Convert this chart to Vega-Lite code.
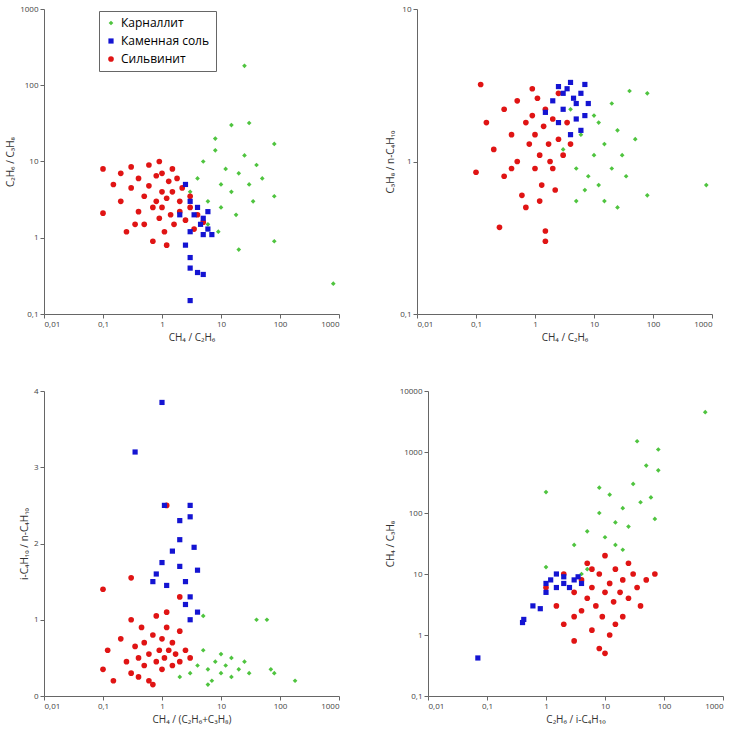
{
"$schema":"https://vega.github.io/schema/vega-lite/v6.json",
"padding":{"left":5,"top":5,"right":10,"bottom":5},
"config":{"view":{"stroke":null},"font":"Open Sans","axis":{"grid":false,"labelFontSize":8,"titleFontSize":10,"titleFontWeight":"normal","labelColor":"#444","titleColor":"#333","domainColor":"#666","tickColor":"#666","tickSize":4},"concat":{"spacing":45}},
"datasets":{"d":[
{"p":1,"t":"Карналлит","x":25,"y":180},{"p":1,"t":"Карналлит","x":800,"y":0.25},{"p":1,"t":"Карналлит","x":80,"y":17},{"p":1,"t":"Карналлит","x":30,"y":32},{"p":1,"t":"Карналлит","x":15,"y":30},{"p":1,"t":"Карналлит","x":20,"y":0.7},{"p":1,"t":"Карналлит","x":80,"y":0.9},{"p":1,"t":"Карналлит","x":80,"y":3.5},{"p":1,"t":"Карналлит","x":3,"y":4},{"p":1,"t":"Карналлит","x":4,"y":6},{"p":1,"t":"Карналлит","x":5,"y":10},{"p":1,"t":"Карналлит","x":6,"y":3},{"p":1,"t":"Карналлит","x":8,"y":14},{"p":1,"t":"Карналлит","x":10,"y":5},{"p":1,"t":"Карналлит","x":10,"y":2.5},{"p":1,"t":"Карналлит","x":12,"y":8},{"p":1,"t":"Карналлит","x":15,"y":4},{"p":1,"t":"Карналлит","x":20,"y":7},{"p":1,"t":"Карналлит","x":25,"y":12},{"p":1,"t":"Карналлит","x":30,"y":5},{"p":1,"t":"Карналлит","x":40,"y":9},{"p":1,"t":"Карналлит","x":6,"y":1.5},{"p":1,"t":"Карналлит","x":9,"y":1.2},{"p":1,"t":"Карналлит","x":18,"y":2},{"p":1,"t":"Карналлит","x":35,"y":3},{"p":1,"t":"Карналлит","x":50,"y":6},{"p":1,"t":"Карналлит","x":8,"y":20},{"p":1,"t":"Карналлит","x":4,"y":2},
{"p":1,"t":"Сильвинит","x":0.1,"y":8},{"p":1,"t":"Сильвинит","x":0.1,"y":2.1},{"p":1,"t":"Сильвинит","x":0.15,"y":5},{"p":1,"t":"Сильвинит","x":0.2,"y":7},{"p":1,"t":"Сильвинит","x":0.2,"y":3},{"p":1,"t":"Сильвинит","x":0.25,"y":1.2},{"p":1,"t":"Сильвинит","x":0.3,"y":4.5},{"p":1,"t":"Сильвинит","x":0.3,"y":8.5},{"p":1,"t":"Сильвинит","x":0.4,"y":2.2},{"p":1,"t":"Сильвинит","x":0.4,"y":6},{"p":1,"t":"Сильвинит","x":0.5,"y":3.5},{"p":1,"t":"Сильвинит","x":0.5,"y":1.5},{"p":1,"t":"Сильвинит","x":0.6,"y":9},{"p":1,"t":"Сильвинит","x":0.6,"y":4.8},{"p":1,"t":"Сильвинит","x":0.7,"y":2.5},{"p":1,"t":"Сильвинит","x":0.8,"y":6.5},{"p":1,"t":"Сильвинит","x":0.8,"y":3},{"p":1,"t":"Сильвинит","x":0.9,"y":1.8},{"p":1,"t":"Сильвинит","x":1,"y":4},{"p":1,"t":"Сильвинит","x":1,"y":2.5},{"p":1,"t":"Сильвинит","x":1,"y":7},{"p":1,"t":"Сильвинит","x":1.1,"y":1.2},{"p":1,"t":"Сильвинит","x":1.2,"y":3.3},{"p":1,"t":"Сильвинит","x":1.3,"y":5.5},{"p":1,"t":"Сильвинит","x":1.4,"y":2},{"p":1,"t":"Сильвинит","x":1.5,"y":4},{"p":1,"t":"Сильвинит","x":1.6,"y":1.5},{"p":1,"t":"Сильвинит","x":1.8,"y":6},{"p":1,"t":"Сильвинит","x":2,"y":3},{"p":1,"t":"Сильвинит","x":2,"y":2.2},{"p":1,"t":"Сильвинит","x":2.2,"y":4.5},{"p":1,"t":"Сильвинит","x":2.5,"y":1.7},{"p":1,"t":"Сильвинит","x":3,"y":3.5},{"p":1,"t":"Сильвинит","x":3,"y":2.5},{"p":1,"t":"Сильвинит","x":3.5,"y":1.3},{"p":1,"t":"Сильвинит","x":4,"y":2},{"p":1,"t":"Сильвинит","x":5,"y":1.6},{"p":1,"t":"Сильвинит","x":0.7,"y":0.9},{"p":1,"t":"Сильвинит","x":1.2,"y":0.8},{"p":1,"t":"Сильвинит","x":0.35,"y":1.5},{"p":1,"t":"Сильвинит","x":0.9,"y":10},{"p":1,"t":"Сильвинит","x":1.5,"y":8},
{"p":1,"t":"Каменная соль","x":3,"y":0.15},{"p":1,"t":"Каменная соль","x":3,"y":0.4},{"p":1,"t":"Каменная соль","x":4,"y":0.35},{"p":1,"t":"Каменная соль","x":5,"y":0.33},{"p":1,"t":"Каменная соль","x":3,"y":0.55},{"p":1,"t":"Каменная соль","x":2.5,"y":0.8},{"p":1,"t":"Каменная соль","x":5,"y":1.1},{"p":1,"t":"Каменная соль","x":6,"y":1.3},{"p":1,"t":"Каменная соль","x":7,"y":1.1},{"p":1,"t":"Каменная соль","x":2,"y":2},{"p":1,"t":"Каменная соль","x":3,"y":3},{"p":1,"t":"Каменная соль","x":4,"y":2.5},{"p":1,"t":"Каменная соль","x":5,"y":1.8},{"p":1,"t":"Каменная соль","x":3,"y":1.2},{"p":1,"t":"Каменная соль","x":2.5,"y":5},{"p":1,"t":"Каменная соль","x":4.5,"y":1.5},{"p":1,"t":"Каменная соль","x":6,"y":2.2},{"p":1,"t":"Каменная соль","x":3.5,"y":2},
{"p":2,"t":"Карналлит","x":800,"y":0.7},{"p":2,"t":"Карналлит","x":80,"y":2.8},{"p":2,"t":"Карналлит","x":40,"y":2.9},{"p":2,"t":"Карналлит","x":80,"y":0.6},{"p":2,"t":"Карналлит","x":25,"y":0.5},{"p":2,"t":"Карналлит","x":5,"y":0.55},{"p":2,"t":"Карналлит","x":3,"y":1.2},{"p":2,"t":"Карналлит","x":5,"y":0.9},{"p":2,"t":"Карналлит","x":6,"y":1.5},{"p":2,"t":"Карналлит","x":8,"y":0.8},{"p":2,"t":"Карналлит","x":10,"y":2},{"p":2,"t":"Карналлит","x":10,"y":1.1},{"p":2,"t":"Карналлит","x":12,"y":0.7},{"p":2,"t":"Карналлит","x":15,"y":1.3},{"p":2,"t":"Карналлит","x":15,"y":0.55},{"p":2,"t":"Карналлит","x":20,"y":0.9},{"p":2,"t":"Карналлит","x":20,"y":2.4},{"p":2,"t":"Карналлит","x":25,"y":1.6},{"p":2,"t":"Карналлит","x":30,"y":1.1},{"p":2,"t":"Карналлит","x":35,"y":0.8},{"p":2,"t":"Карналлит","x":50,"y":1.4},{"p":2,"t":"Карналлит","x":7,"y":0.65},{"p":2,"t":"Карналлит","x":4,"y":2.2},{"p":2,"t":"Карналлит","x":12,"y":1.8},{"p":2,"t":"Карналлит","x":1.5,"y":0.35},
{"p":2,"t":"Сильвинит","x":0.12,"y":3.2},{"p":2,"t":"Сильвинит","x":0.25,"y":0.37},{"p":2,"t":"Сильвинит","x":1.5,"y":0.3},{"p":2,"t":"Сильвинит","x":1.5,"y":0.35},{"p":2,"t":"Сильвинит","x":0.1,"y":0.85},{"p":2,"t":"Сильвинит","x":0.15,"y":1.8},{"p":2,"t":"Сильвинит","x":0.2,"y":1.2},{"p":2,"t":"Сильвинит","x":0.3,"y":2.2},{"p":2,"t":"Сильвинит","x":0.3,"y":0.8},{"p":2,"t":"Сильвинит","x":0.4,"y":1.5},{"p":2,"t":"Сильвинит","x":0.5,"y":1},{"p":2,"t":"Сильвинит","x":0.5,"y":2.5},{"p":2,"t":"Сильвинит","x":0.6,"y":0.6},{"p":2,"t":"Сильвинит","x":0.7,"y":1.8},{"p":2,"t":"Сильвинит","x":0.8,"y":1.3},{"p":2,"t":"Сильвинит","x":0.9,"y":2},{"p":2,"t":"Сильвинит","x":1,"y":0.9},{"p":2,"t":"Сильвинит","x":1,"y":1.5},{"p":2,"t":"Сильвинит","x":1.1,"y":2.6},{"p":2,"t":"Сильвинит","x":1.2,"y":1.1},{"p":2,"t":"Сильвинит","x":1.3,"y":0.7},{"p":2,"t":"Сильвинит","x":1.4,"y":1.7},{"p":2,"t":"Сильвинит","x":1.5,"y":2.2},{"p":2,"t":"Сильвинит","x":1.7,"y":1.3},{"p":2,"t":"Сильвинит","x":2,"y":0.9},{"p":2,"t":"Сильвинит","x":2,"y":1.9},{"p":2,"t":"Сильвинит","x":2.5,"y":1.4},{"p":2,"t":"Сильвинит","x":2.5,"y":2.8},{"p":2,"t":"Сильвинит","x":3,"y":1.1},{"p":2,"t":"Сильвинит","x":3.5,"y":1.8},{"p":2,"t":"Сильвинит","x":4,"y":1.3},{"p":2,"t":"Сильвинит","x":0.7,"y":0.5},{"p":2,"t":"Сильвинит","x":1.2,"y":0.55},{"p":2,"t":"Сильвинит","x":0.9,"y":3},{"p":2,"t":"Сильвинит","x":1.8,"y":1},{"p":2,"t":"Сильвинит","x":0.4,"y":0.9},{"p":2,"t":"Сильвинит","x":2.2,"y":0.65},
{"p":2,"t":"Каменная соль","x":1.5,"y":2.1},{"p":2,"t":"Каменная соль","x":2,"y":2.5},{"p":2,"t":"Каменная соль","x":2.5,"y":1.8},{"p":2,"t":"Каменная соль","x":3,"y":2.2},{"p":2,"t":"Каменная соль","x":3.5,"y":3},{"p":2,"t":"Каменная соль","x":4,"y":3.3},{"p":2,"t":"Каменная соль","x":4.5,"y":2.6},{"p":2,"t":"Каменная соль","x":5,"y":1.9},{"p":2,"t":"Каменная соль","x":5,"y":2.4},{"p":2,"t":"Каменная соль","x":6,"y":2.8},{"p":2,"t":"Каменная соль","x":6,"y":1.6},{"p":2,"t":"Каменная соль","x":7,"y":3.2},{"p":2,"t":"Каменная соль","x":7,"y":2},{"p":2,"t":"Каменная соль","x":3,"y":2.8},{"p":2,"t":"Каменная соль","x":4,"y":1.5},{"p":2,"t":"Каменная соль","x":8,"y":2.4},{"p":2,"t":"Каменная соль","x":2.5,"y":3.1},
{"p":3,"t":"Карналлит","x":40,"y":1.0},{"p":3,"t":"Карналлит","x":60,"y":1.0},{"p":3,"t":"Карналлит","x":180,"y":0.2},{"p":3,"t":"Карналлит","x":5,"y":1.05},{"p":3,"t":"Карналлит","x":2,"y":0.25},{"p":3,"t":"Карналлит","x":3,"y":0.5},{"p":3,"t":"Карналлит","x":3,"y":0.3},{"p":3,"t":"Карналлит","x":4,"y":0.4},{"p":3,"t":"Карналлит","x":5,"y":0.6},{"p":3,"t":"Карналлит","x":6,"y":0.35},{"p":3,"t":"Карналлит","x":7,"y":0.2},{"p":3,"t":"Карналлит","x":8,"y":0.45},{"p":3,"t":"Карналлит","x":10,"y":0.3},{"p":3,"t":"Карналлит","x":10,"y":0.55},{"p":3,"t":"Карналлит","x":12,"y":0.4},{"p":3,"t":"Карналлит","x":15,"y":0.25},{"p":3,"t":"Карналлит","x":15,"y":0.5},{"p":3,"t":"Карналлит","x":20,"y":0.35},{"p":3,"t":"Карналлит","x":25,"y":0.45},{"p":3,"t":"Карналлит","x":30,"y":0.3},{"p":3,"t":"Карналлит","x":70,"y":0.35},{"p":3,"t":"Карналлит","x":80,"y":0.3},{"p":3,"t":"Карналлит","x":6,"y":0.15},
{"p":3,"t":"Сильвинит","x":0.1,"y":1.4},{"p":3,"t":"Сильвинит","x":0.3,"y":1.55},{"p":3,"t":"Сильвинит","x":1.2,"y":2.5},{"p":3,"t":"Сильвинит","x":2,"y":1.3},{"p":3,"t":"Сильвинит","x":0.1,"y":0.35},{"p":3,"t":"Сильвинит","x":0.12,"y":0.6},{"p":3,"t":"Сильвинит","x":0.15,"y":0.2},{"p":3,"t":"Сильвинит","x":0.2,"y":0.75},{"p":3,"t":"Сильвинит","x":0.25,"y":0.45},{"p":3,"t":"Сильвинит","x":0.3,"y":0.3},{"p":3,"t":"Сильвинит","x":0.35,"y":0.65},{"p":3,"t":"Сильвинит","x":0.4,"y":0.5},{"p":3,"t":"Сильвинит","x":0.45,"y":0.9},{"p":3,"t":"Сильвинит","x":0.5,"y":0.4},{"p":3,"t":"Сильвинит","x":0.5,"y":0.7},{"p":3,"t":"Сильвинит","x":0.6,"y":0.55},{"p":3,"t":"Сильвинит","x":0.6,"y":0.2},{"p":3,"t":"Сильвинит","x":0.7,"y":0.8},{"p":3,"t":"Сильвинит","x":0.8,"y":0.45},{"p":3,"t":"Сильвинит","x":0.8,"y":1.05},{"p":3,"t":"Сильвинит","x":0.9,"y":0.6},{"p":3,"t":"Сильвинит","x":1,"y":0.35},{"p":3,"t":"Сильвинит","x":1,"y":0.75},{"p":3,"t":"Сильвинит","x":1.1,"y":0.5},{"p":3,"t":"Сильвинит","x":1.2,"y":0.9},{"p":3,"t":"Сильвинит","x":1.3,"y":0.6},{"p":3,"t":"Сильвинит","x":1.5,"y":0.4},{"p":3,"t":"Сильвинит","x":1.5,"y":0.7},{"p":3,"t":"Сильвинит","x":1.7,"y":0.55},{"p":3,"t":"Сильвинит","x":2,"y":0.45},{"p":3,"t":"Сильвинит","x":2,"y":0.85},{"p":3,"t":"Сильвинит","x":2.5,"y":0.6},{"p":3,"t":"Сильвинит","x":3,"y":0.5},{"p":3,"t":"Сильвинит","x":0.3,"y":1.0},{"p":3,"t":"Сильвинит","x":0.7,"y":0.15},{"p":3,"t":"Сильвинит","x":1.2,"y":1.1},{"p":3,"t":"Сильвинит","x":0.4,"y":0.25},
{"p":3,"t":"Каменная соль","x":0.35,"y":3.2},{"p":3,"t":"Каменная соль","x":1,"y":3.85},{"p":3,"t":"Каменная соль","x":1.1,"y":2.5},{"p":3,"t":"Каменная соль","x":2,"y":2.3},{"p":3,"t":"Каменная соль","x":3,"y":2.5},{"p":3,"t":"Каменная соль","x":3,"y":2.35},{"p":3,"t":"Каменная соль","x":0.7,"y":1.5},{"p":3,"t":"Каменная соль","x":0.8,"y":1.6},{"p":3,"t":"Каменная соль","x":1,"y":1.75},{"p":3,"t":"Каменная соль","x":1.2,"y":1.45},{"p":3,"t":"Каменная соль","x":1.5,"y":1.9},{"p":3,"t":"Каменная соль","x":2,"y":1.7},{"p":3,"t":"Каменная соль","x":2,"y":2.05},{"p":3,"t":"Каменная соль","x":2.5,"y":1.5},{"p":3,"t":"Каменная соль","x":3,"y":1.3},{"p":3,"t":"Каменная соль","x":3.5,"y":1.95},{"p":3,"t":"Каменная соль","x":4,"y":1.65},{"p":3,"t":"Каменная соль","x":3,"y":1.0},{"p":3,"t":"Каменная соль","x":4,"y":1.1},{"p":3,"t":"Каменная соль","x":2.5,"y":1.2},
{"p":4,"t":"Карналлит","x":500,"y":4500},{"p":4,"t":"Карналлит","x":1,"y":220},{"p":4,"t":"Карналлит","x":80,"y":1100},{"p":4,"t":"Карналлит","x":35,"y":1500},{"p":4,"t":"Карналлит","x":80,"y":500},{"p":4,"t":"Карналлит","x":1,"y":13},{"p":4,"t":"Карналлит","x":3,"y":30},{"p":4,"t":"Карналлит","x":5,"y":50},{"p":4,"t":"Карналлит","x":5,"y":12},{"p":4,"t":"Карналлит","x":8,"y":100},{"p":4,"t":"Карналлит","x":10,"y":40},{"p":4,"t":"Карналлит","x":10,"y":20},{"p":4,"t":"Карналлит","x":12,"y":200},{"p":4,"t":"Карналлит","x":15,"y":70},{"p":4,"t":"Карналлит","x":15,"y":30},{"p":4,"t":"Карналлит","x":20,"y":120},{"p":4,"t":"Карналлит","x":25,"y":60},{"p":4,"t":"Карналлит","x":30,"y":300},{"p":4,"t":"Карналлит","x":40,"y":150},{"p":4,"t":"Карналлит","x":50,"y":600},{"p":4,"t":"Карналлит","x":60,"y":180},{"p":4,"t":"Карналлит","x":70,"y":80},{"p":4,"t":"Карналлит","x":8,"y":260},{"p":4,"t":"Карналлит","x":20,"y":25},{"p":4,"t":"Карналлит","x":4,"y":10},
{"p":4,"t":"Сильвинит","x":1,"y":6},{"p":4,"t":"Сильвинит","x":1.5,"y":3},{"p":4,"t":"Сильвинит","x":2,"y":10},{"p":4,"t":"Сильвинит","x":2,"y":1.5},{"p":4,"t":"Сильвинит","x":3,"y":5},{"p":4,"t":"Сильвинит","x":3,"y":0.8},{"p":4,"t":"Сильвинит","x":4,"y":2.5},{"p":4,"t":"Сильвинит","x":4,"y":8},{"p":4,"t":"Сильвинит","x":5,"y":15},{"p":4,"t":"Сильвинит","x":5,"y":4},{"p":4,"t":"Сильвинит","x":6,"y":1.2},{"p":4,"t":"Сильвинит","x":6,"y":6},{"p":4,"t":"Сильвинит","x":7,"y":3},{"p":4,"t":"Сильвинит","x":8,"y":10},{"p":4,"t":"Сильвинит","x":8,"y":0.6},{"p":4,"t":"Сильвинит","x":9,"y":2},{"p":4,"t":"Сильвинит","x":10,"y":5},{"p":4,"t":"Сильвинит","x":10,"y":20},{"p":4,"t":"Сильвинит","x":12,"y":1},{"p":4,"t":"Сильвинит","x":12,"y":7},{"p":4,"t":"Сильвинит","x":14,"y":3.5},{"p":4,"t":"Сильвинит","x":15,"y":12},{"p":4,"t":"Сильвинит","x":18,"y":5},{"p":4,"t":"Сильвинит","x":20,"y":2},{"p":4,"t":"Сильвинит","x":20,"y":8},{"p":4,"t":"Сильвинит","x":25,"y":4},{"p":4,"t":"Сильвинит","x":30,"y":10},{"p":4,"t":"Сильвинит","x":35,"y":6},{"p":4,"t":"Сильвинит","x":40,"y":3},{"p":4,"t":"Сильвинит","x":50,"y":8},{"p":4,"t":"Сильвинит","x":70,"y":10},{"p":4,"t":"Сильвинит","x":10,"y":0.5},{"p":4,"t":"Сильвинит","x":6,"y":12},{"p":4,"t":"Сильвинит","x":3,"y":2},{"p":4,"t":"Сильвинит","x":15,"y":1.5},{"p":4,"t":"Сильвинит","x":25,"y":15},
{"p":4,"t":"Каменная соль","x":0.07,"y":0.42},{"p":4,"t":"Каменная соль","x":0.4,"y":1.6},{"p":4,"t":"Каменная соль","x":0.42,"y":1.8},{"p":4,"t":"Каменная соль","x":0.6,"y":3},{"p":4,"t":"Каменная соль","x":0.8,"y":2.7},{"p":4,"t":"Каменная соль","x":1,"y":5},{"p":4,"t":"Каменная соль","x":1.2,"y":8},{"p":4,"t":"Каменная соль","x":1.5,"y":10},{"p":4,"t":"Каменная соль","x":2,"y":7},{"p":4,"t":"Каменная соль","x":2,"y":9},{"p":4,"t":"Каменная соль","x":2.5,"y":6},{"p":4,"t":"Каменная соль","x":3,"y":8},{"p":4,"t":"Каменная соль","x":1.5,"y":6},{"p":4,"t":"Каменная соль","x":3.5,"y":9},{"p":4,"t":"Каменная соль","x":4,"y":7},{"p":4,"t":"Каменная соль","x":1,"y":7}
]},
"vconcat":[
{"hconcat":[
{"width":295,"height":305,"data":{"name":"d"},"transform":[{"filter":"datum.p==1"}],"mark":{"type":"point","filled":true,"opacity":1},
"encoding":{"x":{"field":"x","type":"quantitative","title":"CH₄ / C₂H₆","scale":{"type":"log","domain":[0.01,1000]},"axis":{"values":[0.01,0.1,1,10,100,1000],"labelExpr":"replace(format(datum.value,'~g'),'.',',')"}},
"y":{"field":"y","type":"quantitative","title":"C₂H₆ / C₃H₈","scale":{"type":"log","domain":[0.1,1000]},"axis":{"values":[0.1,1,10,100,1000],"labelExpr":"replace(format(datum.value,'~g'),'.',',')"}},
"color":{"field":"t","type":"nominal","scale":{"domain":["Карналлит","Каменная соль","Сильвинит"],"range":["#4fc43f","#1414d2","#e01414"]},"legend":{"title":null,"orient":"none","legendX":55,"legendY":2,"symbolSize":220,"labelFontSize":12,"labelColor":"#000","strokeColor":"#666","padding":6,"fillColor":"white","rowPadding":6}},
"shape":{"field":"t","type":"nominal","scale":{"domain":["Карналлит","Каменная соль","Сильвинит"],"range":["diamond","square","circle"]}},
"size":{"field":"t","type":"nominal","scale":{"domain":["Карналлит","Каменная соль","Сильвинит"],"range":[22,32,55]},"legend":null}}},
{"width":295,"height":305,"data":{"name":"d"},"transform":[{"filter":"datum.p==2"}],"mark":{"type":"point","filled":true,"opacity":1},
"encoding":{"x":{"field":"x","type":"quantitative","title":"CH₄ / C₂H₆","scale":{"type":"log","domain":[0.01,1000]},"axis":{"values":[0.01,0.1,1,10,100,1000],"labelExpr":"replace(format(datum.value,'~g'),'.',',')"}},
"y":{"field":"y","type":"quantitative","title":"C₃H₈ / n-C₄H₁₀","scale":{"type":"log","domain":[0.1,10]},"axis":{"values":[0.1,1,10],"labelExpr":"replace(format(datum.value,'~g'),'.',',')"}},
"color":{"field":"t","type":"nominal"},"shape":{"field":"t","type":"nominal"},"size":{"field":"t","type":"nominal","legend":null}}}
]},
{"hconcat":[
{"width":295,"height":305,"data":{"name":"d"},"transform":[{"filter":"datum.p==3"}],"mark":{"type":"point","filled":true,"opacity":1},
"encoding":{"x":{"field":"x","type":"quantitative","title":"CH₄ / (C₂H₆+C₃H₈)","scale":{"type":"log","domain":[0.01,1000]},"axis":{"values":[0.01,0.1,1,10,100,1000],"labelExpr":"replace(format(datum.value,'~g'),'.',',')"}},
"y":{"field":"y","type":"quantitative","title":"i-C₄H₁₀ / n-C₄H₁₀","scale":{"domain":[0,4]},"axis":{"values":[0,1,2,3,4]}},
"color":{"field":"t","type":"nominal"},"shape":{"field":"t","type":"nominal"},"size":{"field":"t","type":"nominal","legend":null}}},
{"width":295,"height":305,"data":{"name":"d"},"transform":[{"filter":"datum.p==4"}],"mark":{"type":"point","filled":true,"opacity":1},
"encoding":{"x":{"field":"x","type":"quantitative","title":"C₂H₆ / i-C₄H₁₀","scale":{"type":"log","domain":[0.01,1000]},"axis":{"values":[0.01,0.1,1,10,100,1000],"labelExpr":"replace(format(datum.value,'~g'),'.',',')"}},
"y":{"field":"y","type":"quantitative","title":"CH₄ / C₃H₈","scale":{"type":"log","domain":[0.1,10000]},"axis":{"values":[0.1,1,10,100,1000,10000],"labelExpr":"replace(format(datum.value,'~g'),'.',',')"}},
"color":{"field":"t","type":"nominal"},"shape":{"field":"t","type":"nominal"},"size":{"field":"t","type":"nominal","legend":null}}}
]}
],
"resolve":{"scale":{"x":"independent","y":"independent"}}
}
